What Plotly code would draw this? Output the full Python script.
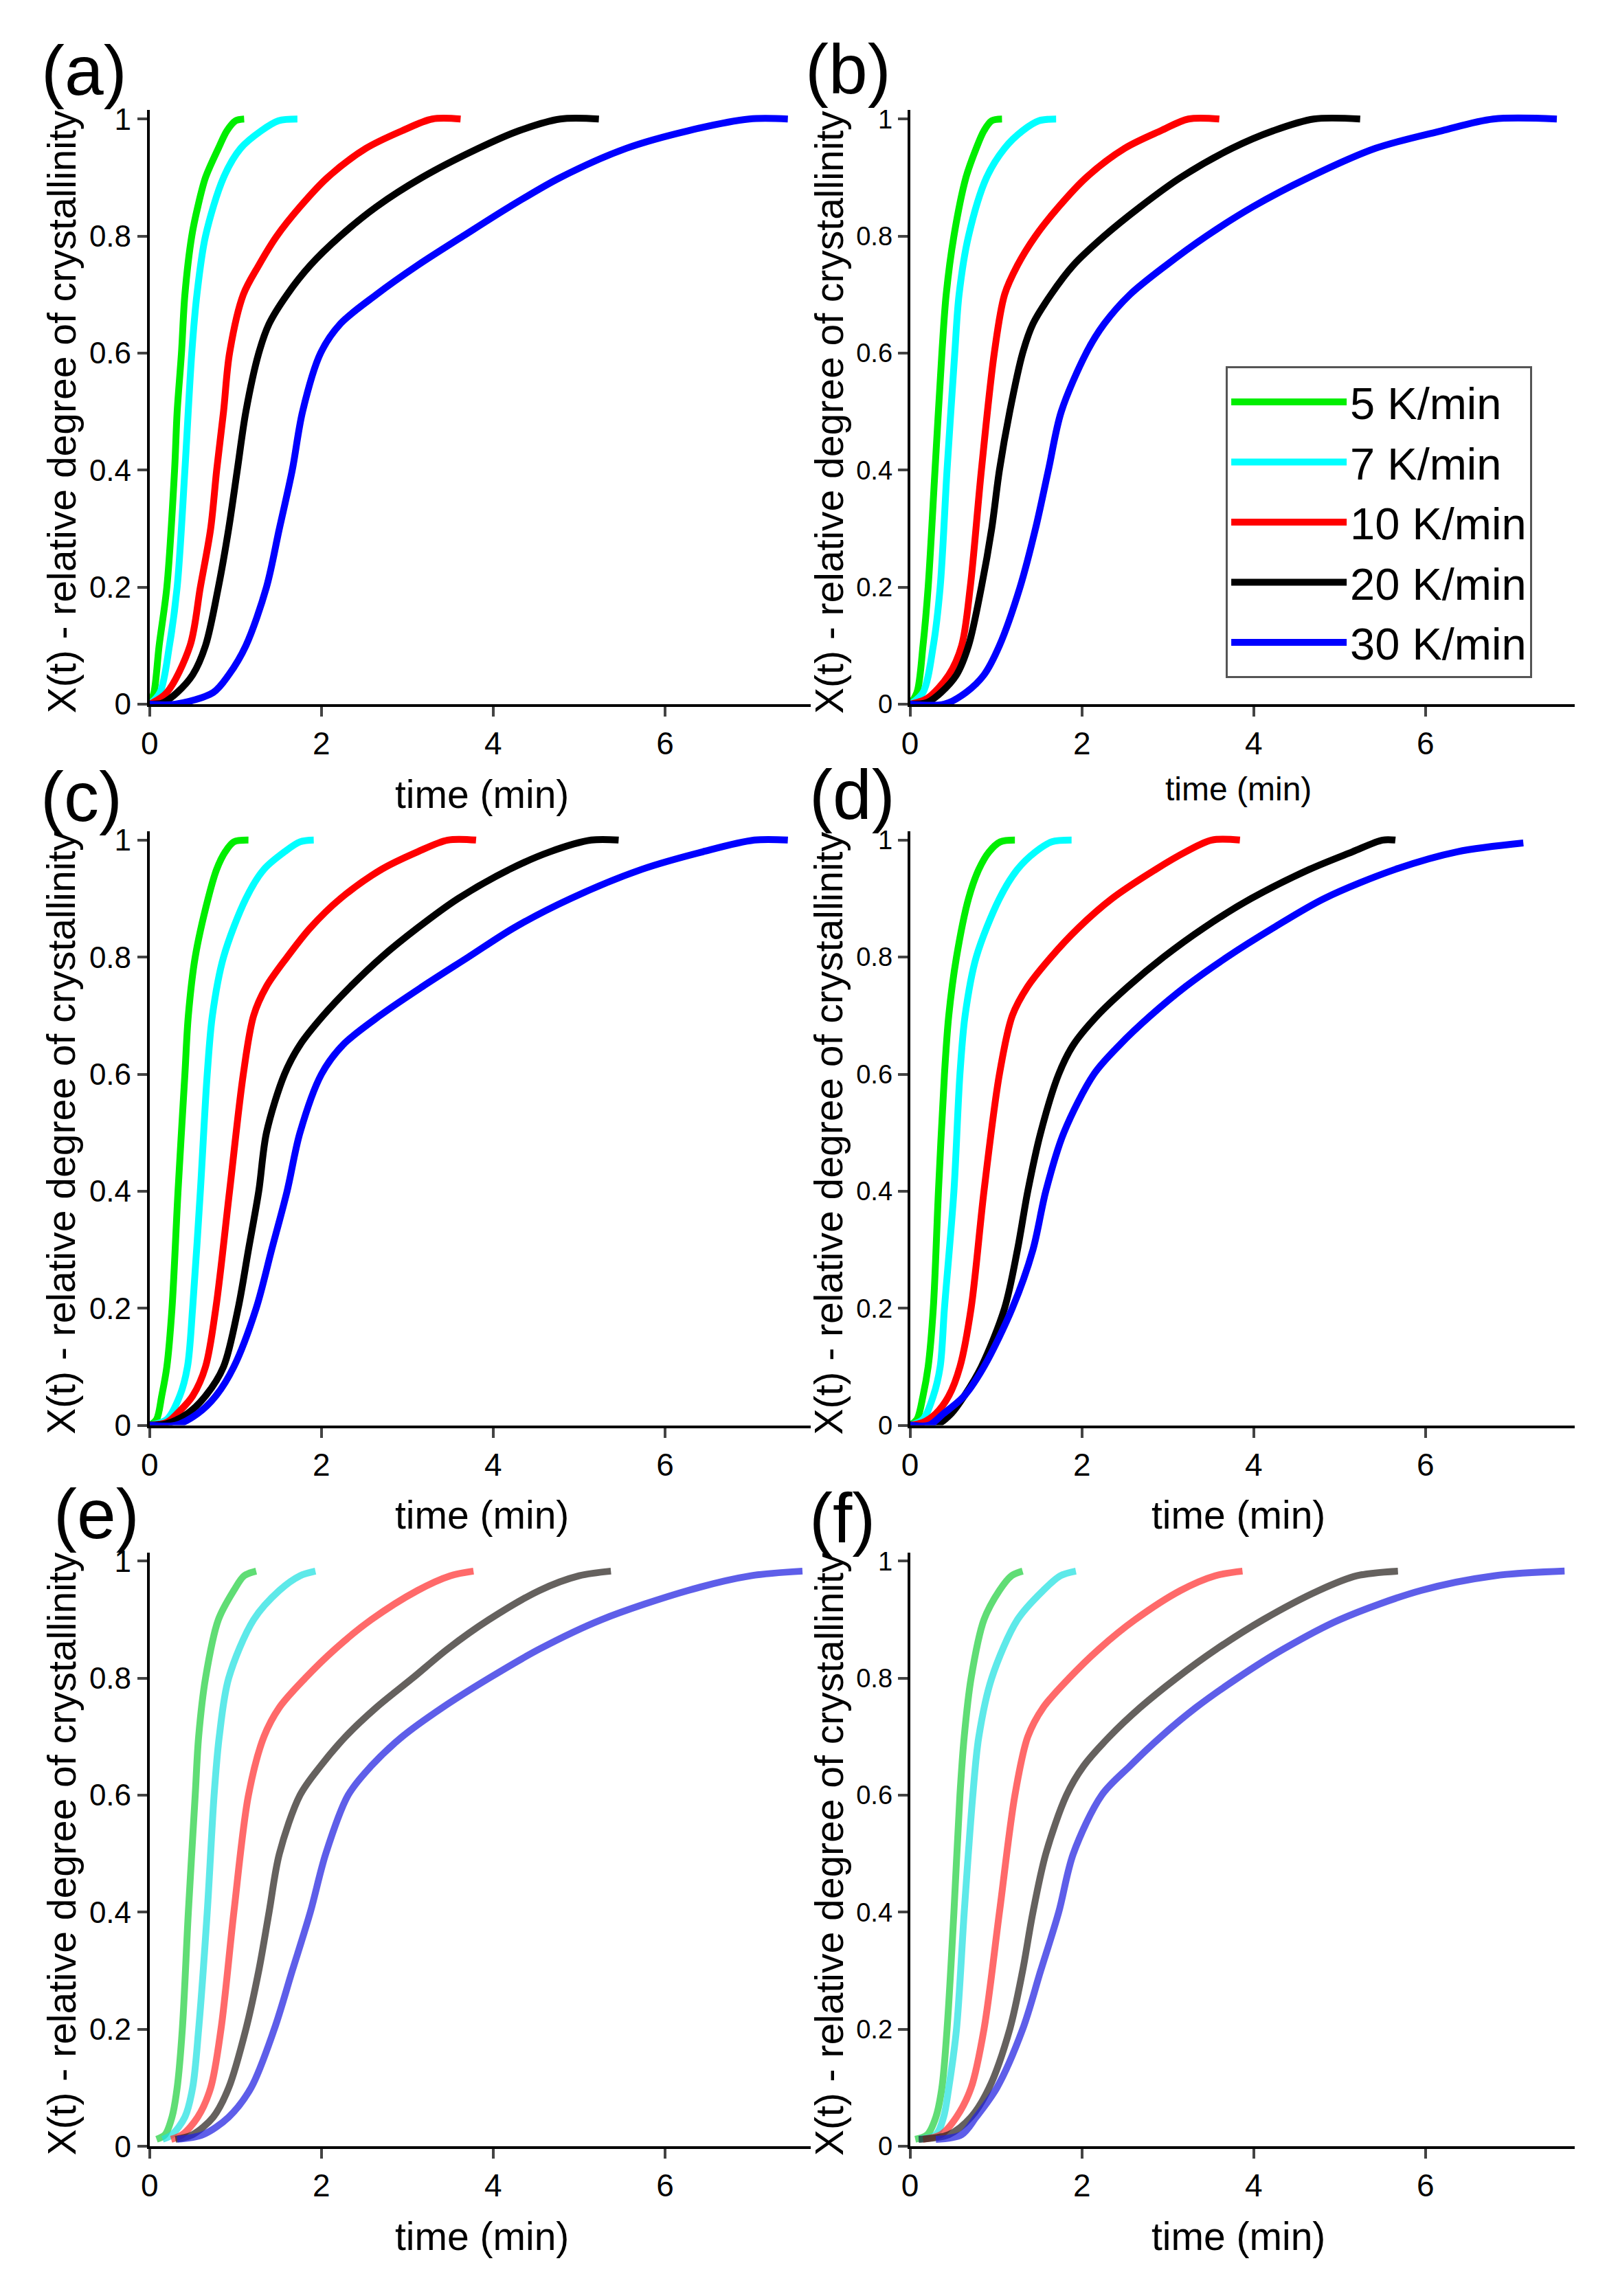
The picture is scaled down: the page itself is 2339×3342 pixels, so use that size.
import plotly.graph_objects as go

W, H = 2339, 3342
FONT = "Liberation Sans, Arial, sans-serif"

RATES = ["5 K/min", "7 K/min", "10 K/min", "20 K/min", "30 K/min"]
COLORS = ["#00ee00", "#00ffff", "#ff0000", "#000000", "#0000ff"]
COLORS_BLUR = ["#22d040", "#20e0e0", "#ff3030", "#2a2420", "#2020e0"]
PANEL_LABELS = ["(a)", "(b)", "(c)", "(d)", "(e)", "(f)"]
X_TICKS = [0, 2, 4, 6]
Y_TICKS = [0, 0.2, 0.4, 0.6, 0.8, 1]
Y_TICK_TEXT = ["0", "0.2", "0.4", "0.6", "0.8", "1"]
X_TITLE = "time (min)"
Y_TITLE = "X(t) - relative degree of crystallinity"

# ---------------- panel (a) ----------------
a_t5 = [0, 0.05, 0.11, 0.20, 0.29, 0.32, 0.37, 0.41, 0.49, 0.56, 0.65, 0.80, 0.90, 1.00, 1.10]
a_x5 = [0, 0.02, 0.1, 0.2, 0.4, 0.5, 0.6, 0.7, 0.8, 0.85, 0.9, 0.95, 0.98, 0.997, 1.0]
a_t7 = [0, 0.12, 0.23, 0.32, 0.41, 0.49, 0.55, 0.65, 0.86, 1.06, 1.30, 1.50, 1.72]
a_x7 = [0, 0.02, 0.1, 0.2, 0.4, 0.6, 0.7, 0.8, 0.9, 0.95, 0.98, 0.997, 1.0]
a_t10 = [0, 0.20, 0.47, 0.59, 0.71, 0.78, 0.86, 0.93, 1.09, 1.27, 1.48, 1.75, 2.07, 2.52, 2.94, 3.29, 3.62]
a_x10 = [0, 0.02, 0.1, 0.2, 0.3, 0.4, 0.5, 0.6, 0.7, 0.75, 0.8, 0.85, 0.9, 0.95, 0.98, 1.0, 1.0]
a_t20 = [0, 0.15, 0.32, 0.50, 0.65, 0.80, 0.92, 1.02, 1.12, 1.27, 1.39, 1.60, 1.87, 2.22, 2.64, 3.17, 3.83, 4.30, 4.78, 5.23]
a_x20 = [0, 0.002, 0.02, 0.05, 0.1, 0.2, 0.3, 0.4, 0.5, 0.6, 0.65, 0.7, 0.75, 0.8, 0.85, 0.9, 0.95, 0.98, 1.0, 1.0]
a_t30 = [0, 0.30, 0.74, 0.92, 1.12, 1.36, 1.51, 1.66, 1.78, 1.99, 2.22, 2.64, 3.12, 3.65, 4.19, 4.78, 5.55, 6.27, 6.98, 7.43]
a_x30 = [0, 0, 0.02, 0.05, 0.1, 0.2, 0.3, 0.4, 0.5, 0.6, 0.65, 0.7, 0.75, 0.8, 0.85, 0.9, 0.95, 0.98, 1.0, 1.0]

# ---------------- panel (b) ----------------
b_t5 = [0, 0.08, 0.15, 0.21, 0.29, 0.37, 0.42, 0.51, 0.65, 0.77, 0.86, 0.95, 1.07]
b_x5 = [0, 0.02, 0.1, 0.2, 0.4, 0.6, 0.7, 0.8, 0.9, 0.95, 0.98, 0.997, 1.0]
b_t7 = [0, 0.15, 0.27, 0.35, 0.43, 0.52, 0.57, 0.68, 0.89, 1.10, 1.31, 1.50, 1.70]
b_x7 = [0, 0.02, 0.1, 0.2, 0.4, 0.6, 0.7, 0.8, 0.9, 0.95, 0.98, 0.997, 1.0]
b_t10 = [0, 0.20, 0.45, 0.60, 0.70, 0.83, 0.98, 1.10, 1.25, 1.46, 1.73, 2.05, 2.50, 2.92, 3.24, 3.60]
b_x10 = [0, 0.01, 0.05, 0.1, 0.2, 0.4, 0.6, 0.7, 0.75, 0.8, 0.85, 0.9, 0.95, 0.98, 1.0, 1.0]
b_t20 = [0, 0.20, 0.36, 0.54, 0.68, 0.83, 0.95, 1.04, 1.16, 1.31, 1.43, 1.64, 1.90, 2.26, 2.68, 3.15, 3.75, 4.23, 4.70, 5.24]
b_x20 = [0, 0.003, 0.02, 0.05, 0.1, 0.2, 0.3, 0.4, 0.5, 0.6, 0.65, 0.7, 0.75, 0.8, 0.85, 0.9, 0.95, 0.98, 1.0, 1.0]
b_t30 = [0, 0.40, 0.65, 0.86, 1.04, 1.28, 1.46, 1.61, 1.76, 2.05, 2.26, 2.56, 2.98, 3.45, 3.99, 4.64, 5.42, 6.19, 6.79, 7.53]
b_x30 = [0, 0, 0.02, 0.05, 0.1, 0.2, 0.3, 0.4, 0.5, 0.6, 0.65, 0.7, 0.75, 0.8, 0.85, 0.9, 0.95, 0.98, 1.0, 1.0]

# ---------------- panel (c) ----------------
c_t5 = [0, 0.08, 0.14, 0.20, 0.26, 0.33, 0.41, 0.45, 0.53, 0.68, 0.78, 0.88, 0.98, 1.15]
c_x5 = [0, 0.01, 0.05, 0.1, 0.2, 0.4, 0.6, 0.7, 0.8, 0.9, 0.95, 0.98, 0.997, 1.0]
c_t7 = [0, 0.20, 0.35, 0.44, 0.50, 0.59, 0.67, 0.73, 0.86, 1.12, 1.33, 1.57, 1.75, 1.91]
c_x7 = [0, 0.01, 0.05, 0.1, 0.2, 0.4, 0.6, 0.7, 0.8, 0.9, 0.95, 0.98, 0.997, 1.0]
c_t10 = [0, 0.20, 0.32, 0.50, 0.65, 0.77, 0.93, 1.09, 1.21, 1.36, 1.60, 1.87, 2.22, 2.70, 3.12, 3.47, 3.80]
c_x10 = [0, 0.005, 0.02, 0.05, 0.1, 0.2, 0.4, 0.6, 0.7, 0.75, 0.8, 0.85, 0.9, 0.95, 0.98, 1.0, 1.0]
c_t20 = [0, 0.20, 0.44, 0.65, 0.86, 1.03, 1.15, 1.27, 1.36, 1.57, 1.75, 2.02, 2.34, 2.70, 3.12, 3.59, 4.19, 4.66, 5.14, 5.46]
c_x20 = [0, 0.003, 0.02, 0.05, 0.1, 0.2, 0.3, 0.4, 0.5, 0.6, 0.65, 0.7, 0.75, 0.8, 0.85, 0.9, 0.95, 0.98, 1.0, 1.0]
c_t30 = [0, 0.30, 0.56, 0.77, 0.98, 1.24, 1.42, 1.60, 1.75, 2.00, 2.25, 2.68, 3.18, 3.71, 4.24, 4.90, 5.73, 6.44, 7.04, 7.43]
c_x30 = [0, 0, 0.02, 0.05, 0.1, 0.2, 0.3, 0.4, 0.5, 0.6, 0.65, 0.7, 0.75, 0.8, 0.85, 0.9, 0.95, 0.98, 1.0, 1.0]

# ---------------- panel (d) ----------------
d_t5 = [0, 0.08, 0.15, 0.21, 0.27, 0.33, 0.40, 0.45, 0.54, 0.68, 0.80, 0.92, 1.05, 1.22]
d_x5 = [0, 0.01, 0.05, 0.1, 0.2, 0.4, 0.6, 0.7, 0.8, 0.9, 0.95, 0.98, 0.997, 1.0]
d_t7 = [0, 0.15, 0.27, 0.35, 0.40, 0.51, 0.58, 0.64, 0.77, 1.04, 1.25, 1.46, 1.65, 1.88]
d_x7 = [0, 0.01, 0.05, 0.1, 0.2, 0.4, 0.6, 0.7, 0.8, 0.9, 0.95, 0.98, 0.997, 1.0]
d_t10 = [0, 0.15, 0.30, 0.45, 0.58, 0.71, 0.86, 1.04, 1.19, 1.37, 1.64, 1.96, 2.35, 2.86, 3.21, 3.51, 3.84]
d_x10 = [0, 0.005, 0.02, 0.05, 0.1, 0.2, 0.4, 0.6, 0.7, 0.75, 0.8, 0.85, 0.9, 0.95, 0.98, 1.0, 1.0]
d_t20 = [0, 0.30, 0.48, 0.63, 0.83, 1.10, 1.25, 1.37, 1.52, 1.73, 1.90, 2.18, 2.54, 2.95, 3.42, 3.97, 4.65, 5.15, 5.50, 5.65]
d_x20 = [0, 0, 0.02, 0.05, 0.1, 0.2, 0.3, 0.4, 0.5, 0.6, 0.65, 0.7, 0.75, 0.8, 0.85, 0.9, 0.95, 0.98, 1.0, 1.0]
d_t30 = [0, 0.22, 0.39, 0.63, 0.86, 1.19, 1.43, 1.58, 1.79, 2.14, 2.44, 2.80, 3.21, 3.69, 4.23, 4.82, 5.65, 6.37, 7.14]
d_x30 = [0, 0, 0.02, 0.05, 0.1, 0.2, 0.3, 0.4, 0.5, 0.6, 0.65, 0.7, 0.75, 0.8, 0.85, 0.9, 0.95, 0.98, 0.995]

# ---------------- panel (e) ----------------
e_t5 = [0.08, 0.18, 0.26, 0.32, 0.38, 0.45, 0.53, 0.57, 0.65, 0.80, 0.98, 1.10, 1.24]
e_x5 = [0.012, 0.02, 0.05, 0.1, 0.2, 0.4, 0.6, 0.7, 0.8, 0.9, 0.95, 0.975, 0.983]
e_t7 = [0.15, 0.26, 0.41, 0.50, 0.57, 0.67, 0.75, 0.81, 0.92, 1.21, 1.51, 1.75, 1.93]
e_x7 = [0.012, 0.02, 0.05, 0.1, 0.2, 0.4, 0.6, 0.7, 0.8, 0.9, 0.95, 0.975, 0.983]
e_t10 = [0.25, 0.38, 0.56, 0.71, 0.83, 0.98, 1.15, 1.33, 1.51, 1.81, 2.16, 2.58, 3.12, 3.50, 3.77]
e_x10 = [0.012, 0.02, 0.05, 0.1, 0.2, 0.4, 0.6, 0.7, 0.75, 0.8, 0.85, 0.9, 0.95, 0.975, 0.983]
e_t20 = [0.30, 0.50, 0.74, 0.92, 1.12, 1.27, 1.39, 1.51, 1.75, 1.99, 2.28, 2.64, 3.06, 3.47, 3.95, 4.54, 5.00, 5.37]
e_x20 = [0.012, 0.02, 0.05, 0.1, 0.2, 0.3, 0.4, 0.5, 0.6, 0.65, 0.7, 0.75, 0.8, 0.85, 0.9, 0.95, 0.975, 0.983]
e_t30 = [0.32, 0.62, 0.92, 1.18, 1.45, 1.66, 1.87, 2.05, 2.31, 2.58, 2.94, 3.41, 3.95, 4.54, 5.26, 6.27, 7.00, 7.60]
e_x30 = [0.012, 0.02, 0.05, 0.1, 0.2, 0.3, 0.4, 0.5, 0.6, 0.65, 0.7, 0.75, 0.8, 0.85, 0.9, 0.95, 0.975, 0.983]

# ---------------- panel (f) ----------------
f_t5 = [0.06, 0.20, 0.30, 0.37, 0.43, 0.51, 0.58, 0.63, 0.71, 0.86, 1.04, 1.18, 1.31]
f_x5 = [0.012, 0.02, 0.05, 0.1, 0.2, 0.4, 0.6, 0.7, 0.8, 0.9, 0.95, 0.975, 0.983]
f_t7 = [0.10, 0.30, 0.39, 0.45, 0.54, 0.63, 0.73, 0.80, 0.95, 1.25, 1.55, 1.75, 1.93]
f_x7 = [0.012, 0.02, 0.05, 0.1, 0.2, 0.4, 0.6, 0.7, 0.8, 0.9, 0.95, 0.975, 0.983]
f_t10 = [0.15, 0.36, 0.54, 0.71, 0.86, 1.04, 1.22, 1.37, 1.55, 1.85, 2.20, 2.62, 3.15, 3.55, 3.87]
f_x10 = [0.012, 0.02, 0.05, 0.1, 0.2, 0.4, 0.6, 0.7, 0.75, 0.8, 0.85, 0.9, 0.95, 0.975, 0.983]
f_t20 = [0.10, 0.45, 0.71, 0.92, 1.16, 1.31, 1.43, 1.58, 1.82, 2.02, 2.32, 2.68, 3.10, 3.57, 4.11, 4.76, 5.20, 5.68]
f_x20 = [0.012, 0.02, 0.05, 0.1, 0.2, 0.3, 0.4, 0.5, 0.6, 0.65, 0.7, 0.75, 0.8, 0.85, 0.9, 0.95, 0.975, 0.983]
f_t30 = [0.30, 0.60, 0.77, 1.01, 1.31, 1.52, 1.73, 1.90, 2.23, 2.56, 2.92, 3.33, 3.81, 4.35, 5.00, 5.95, 6.80, 7.62]
f_x30 = [0.012, 0.02, 0.05, 0.1, 0.2, 0.3, 0.4, 0.5, 0.6, 0.65, 0.7, 0.75, 0.8, 0.85, 0.9, 0.95, 0.975, 0.983]

PANEL_DATA = [
    [(a_t5, a_x5), (a_t7, a_x7), (a_t10, a_x10), (a_t20, a_x20), (a_t30, a_x30)],
    [(b_t5, b_x5), (b_t7, b_x7), (b_t10, b_x10), (b_t20, b_x20), (b_t30, b_x30)],
    [(c_t5, c_x5), (c_t7, c_x7), (c_t10, c_x10), (c_t20, c_x20), (c_t30, c_x30)],
    [(d_t5, d_x5), (d_t7, d_x7), (d_t10, d_x10), (d_t20, d_x20), (d_t30, d_x30)],
    [(e_t5, e_x5), (e_t7, e_x7), (e_t10, e_x10), (e_t20, e_x20), (e_t30, e_x30)],
    [(f_t5, f_x5), (f_t7, f_x7), (f_t10, f_x10), (f_t20, f_x20), (f_t30, f_x30)],
]

# ---------------- geometry (pixels) ----------------
COL_X = [(206, 1174), (1319, 2292)]
COL_XMAX = [7.70, 7.74]
ROW_Y0 = [1024, 2085, 3146]
UNIT_H = 861
Y_MAX = 1.015
LABEL_POS = [(110, 92), (1228, 90), (106, 1160), (1234, 1157), (128, 2216), (1220, 2222)]
YTICK_SIZE = [44, 38]

fig = go.Figure()
layout = dict(
    width=W, height=H,
    margin=dict(l=0, r=0, t=0, b=0),
    paper_bgcolor="white", plot_bgcolor="white",
    font=dict(family=FONT, color="black"),
    showlegend=True,
    legend=dict(
        x=1781 / W, y=1 - 527 / H, xanchor="left", yanchor="top",
        bgcolor="white", bordercolor="#555555", borderwidth=3,
        font=dict(size=65, family=FONT, color="black"),
        itemwidth=168,
    ),
)
annotations = []

for p in range(6):
    row, col = divmod(p, 2)
    idx = "" if p == 0 else str(p + 1)
    x0p, x1p = COL_X[col]
    y0p = ROW_Y0[row]
    ytop = y0p - UNIT_H * Y_MAX
    layout["xaxis" + idx] = dict(
        domain=[x0p / W, x1p / W], range=[0, COL_XMAX[col]],
        anchor="y" + idx, tickvals=X_TICKS, ticks="outside", ticklen=14, tickwidth=4,
        showline=True, linewidth=4, linecolor="black", showgrid=False, zeroline=False,
        tickfont=dict(size=46, family=FONT, color="black"), fixedrange=True,
    )
    layout["yaxis" + idx] = dict(
        domain=[1 - y0p / H, 1 - ytop / H], range=[0, Y_MAX],
        anchor="x" + idx, tickvals=Y_TICKS, ticktext=Y_TICK_TEXT, ticks="outside",
        ticklen=14, tickwidth=4, showline=True, linewidth=4, linecolor="black",
        showgrid=False, zeroline=False,
        tickfont=dict(size=YTICK_SIZE[col], family=FONT, color="black"), fixedrange=True,
    )
    blur = p >= 4
    for s, (tt, xx) in enumerate(PANEL_DATA[p]):
        fig.add_trace(go.Scatter(
            x=tt, y=xx, mode="lines", name=RATES[s],
            line=dict(color=(COLORS_BLUR if blur else COLORS)[s], width=10,
                      shape="spline", smoothing=0.9),
            opacity=0.72 if blur else 1.0,
            showlegend=(p == 1),
            legendrank=s,
            hoverinfo="skip",
            xaxis="x" + idx, yaxis="y" + idx,
        ))
    # panel label
    lx, ly = LABEL_POS[p]
    annotations.append(dict(
        text=PANEL_LABELS[p], xref="paper", yref="paper",
        x=lx / W, y=1 - ly / H,
        xanchor="center", yanchor="middle", showarrow=False,
        font=dict(size=102, family=FONT, color="black"),
    ))
    # y title
    annotations.append(dict(
        text=Y_TITLE, xref="paper", yref="paper",
        x=[77, 1200][col] / W, y=1 - (y0p - 430) / H,
        xanchor="center", yanchor="middle", textangle=-90, showarrow=False,
        font=dict(size=57, family=FONT, color="black"),
    ))
    # x title
    small = (p == 1)
    annotations.append(dict(
        text=X_TITLE, xref="paper", yref="paper",
        x=[692, 1800][col] / W, y=1 - (y0p + (125 if small else 132)) / H,
        xanchor="center", yanchor="middle", showarrow=False,
        font=dict(size=48 if small else 57, family=FONT, color="black"),
    ))

layout["annotations"] = annotations
fig.update_layout(**layout)
fig.write_html(
    "out.html",
    config={"displayModeBar": False, "staticPlot": True},
    post_script="document.body.style.margin='0';document.body.style.overflow='hidden';",
)
